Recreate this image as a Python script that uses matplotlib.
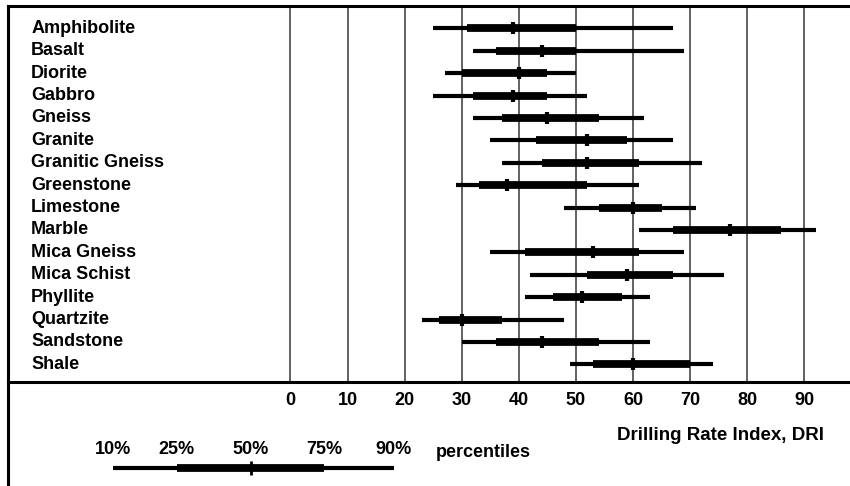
import matplotlib
matplotlib.use("Agg")
import matplotlib.pyplot as plt
from matplotlib.lines import Line2D

# DRI percentiles per rock type (10%, 25%, 50%, 75%, 90%)
rocks = ['Amphibolite', 'Basalt', 'Diorite', 'Gabbro', 'Gneiss', 'Granite',
         'Granitic Gneiss', 'Greenstone', 'Limestone', 'Marble', 'Mica Gneiss',
         'Mica Schist', 'Phyllite', 'Quartzite', 'Sandstone', 'Shale']
p10 = [25, 32, 27, 25, 32, 35, 37, 29, 48, 61, 35, 42, 41, 23, 30, 49]
p25 = [31, 36, 30, 32, 37, 43, 44, 33, 54, 67, 41, 52, 46, 26, 36, 53]
p50 = [39, 44, 40, 39, 45, 52, 52, 38, 60, 77, 53, 59, 51, 30, 44, 60]
p75 = [50, 50, 45, 45, 54, 59, 61, 52, 65, 86, 61, 67, 58, 37, 54, 70]
p90 = [67, 69, 50, 52, 62, 67, 72, 61, 71, 92, 69, 76, 63, 48, 63, 74]

xticks = [0, 10, 20, 30, 40, 50, 60, 70, 80, 90]

# legend schematic (position along a 0-100 bar)
legend_labels = ['10%', '25%', '50%', '75%', '90%']
legend_pos = [0, 22.6, 49, 75, 100]

W, H = 850, 486
fig = plt.figure(figsize=(W / 100, H / 100), dpi=100)

label_font = ['Liberation Sans', 'DejaVu Sans']

# main panel: pixel box x 8..850, y 6..382
ax = fig.add_axes([8 / W, (H - 382) / H, (W - 8) / W, (382 - 6) / H])
ax.set_xlim(-49.46, 98.0)
ax.set_ylim(15.79, -1.0)

ax.spines['right'].set_visible(False)
for s in ['left', 'top', 'bottom']:
    ax.spines[s].set_linewidth(2.2)
    ax.spines[s].set_color('black')

for v in xticks:
    ax.axvline(v, color='#555555', lw=1.3, zorder=1)

y = list(range(len(rocks)))
ax.hlines(y, p10, p90, color='black', lw=3.0, capstyle='butt', zorder=3)
ax.hlines(y, p25, p75, color='black', lw=5.6, capstyle='butt', zorder=4)
ax.plot(p50, y, linestyle='none', marker='|', markersize=9, mew=3.0,
        color='black', zorder=5)

for i, name in enumerate(rocks):
    ax.text(-45.4, i, name, ha='left', va='center', fontsize=13,
            fontweight='bold', family=label_font)

ax.set_yticks([])
ax.set_xticks(xticks)
ax.set_xticklabels([str(v) for v in xticks], family=label_font,
                   fontsize=13, fontweight='bold')
ax.tick_params(axis='x', length=0, pad=7)

# left border continues below the panel
fig.add_artist(Line2D([8 / W, 8 / W], [0, (H - 382) / H], color='black',
                      lw=2.2, transform=fig.transFigure))

fig.text(617 / W, 1 - 435 / H, 'Drilling Rate Index, DRI', ha='left',
         va='center', fontsize=13.5, fontweight='bold', family=label_font)

# legend schematic
lax = fig.add_axes([113.3 / W, 1 - 480 / H, (394 - 113.3) / W, 40 / H])
lax.set_xlim(0, 100)
lax.set_ylim(0, 1)
lax.axis('off')
ly = 0.3
lax.hlines(ly, legend_pos[0], legend_pos[4], color='black', lw=3.0,
           capstyle='butt')
lax.hlines(ly, legend_pos[1], legend_pos[3], color='black', lw=5.6,
           capstyle='butt')
lax.plot([legend_pos[2]], [ly], marker='|', markersize=10, mew=2.0,
         color='black')
for pos, lab in zip(legend_pos, legend_labels):
    lax.text(pos, 0.75, lab, ha='center', va='center', fontsize=13,
             fontweight='bold', family=label_font)
fig.text(436 / W, 1 - 452 / H, 'percentiles', ha='left', va='center',
         fontsize=13, fontweight='bold', family=label_font)

fig.savefig('out.png', dpi=100)
